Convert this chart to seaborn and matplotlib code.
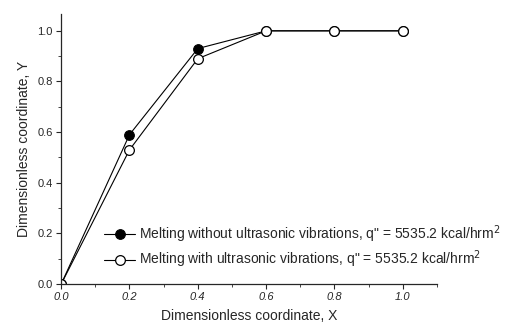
import numpy as np
import pandas as pd
import seaborn as sns
import matplotlib.pyplot as plt
from matplotlib.ticker import MultipleLocator

# dane
x_vals = [0.0, 0.2, 0.4, 0.6, 0.8, 1.0]
y_without = [0.0, 0.59, 0.93, 1.0, 1.0, 1.0]
y_with = [0.0, 0.53, 0.89, 1.0, 1.0, 1.0]
labels = [
    'Melting without ultrasonic vibrations, q" = 5535.2 kcal/hrm$^2$',
    'Melting with ultrasonic vibrations, q" = 5535.2 kcal/hrm$^2$',
]

sns.set_style("ticks")
plt.rcParams["font.family"] = ["Liberation Sans", "DejaVu Sans"]

fig = plt.figure(figsize=(5.14, 3.30), dpi=100)
ax = fig.add_axes([0.119, 0.139, 0.731, 0.819])

sns.lineplot(x=x_vals, y=y_without, ax=ax, color="black", lw=0.8,
             marker="o", markersize=7, markerfacecolor="black",
             markeredgecolor="black", label=labels[0])
sns.lineplot(x=x_vals, y=y_with, ax=ax, color="black", lw=0.8,
             marker="o", markersize=7, markerfacecolor="white",
             markeredgecolor="black", markeredgewidth=0.9, label=labels[1])

ax.set_xlim(0, 1.1)
ax.set_ylim(0, 1.067)
ax.xaxis.set_major_locator(MultipleLocator(0.2))
ax.xaxis.set_minor_locator(MultipleLocator(0.1))
ax.yaxis.set_major_locator(MultipleLocator(0.2))
ax.yaxis.set_minor_locator(MultipleLocator(0.1))
ax.tick_params(which="major", length=3.5, width=0.8, labelsize=8, pad=2.5)
ax.tick_params(which="minor", length=2, width=0.6)
ax.xaxis.set_major_formatter(plt.FuncFormatter(lambda v, p: f"{v:.1f}"))
ax.yaxis.set_major_formatter(plt.FuncFormatter(lambda v, p: f"{v:.1f}"))
for t in ax.get_xticklabels():
    t.set_style("italic")
sns.despine(ax=ax)
for s in ["left", "bottom"]:
    ax.spines[s].set_linewidth(0.9)

ax.set_xlabel("Dimensionless coordinate, X", fontsize=10, labelpad=5)
ax.set_ylabel("Dimensionless coordinate, Y", fontsize=10, labelpad=5)

ax.legend(loc="lower left", bbox_to_anchor=(0.1, 0.03), frameon=False,
          fontsize=10, handlelength=2.2, handletextpad=0.3, labelspacing=0.3,
          borderaxespad=0)

fig.savefig("out.png", dpi=100)
